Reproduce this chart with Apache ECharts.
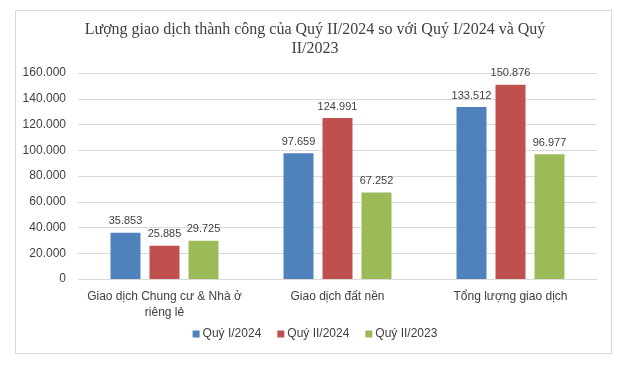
<!DOCTYPE html>
<html><head><meta charset="utf-8">
<script src="https://cdn.jsdelivr.net/npm/echarts@6/dist/echarts.min.js"></script>
<style>html,body{margin:0;padding:0;background:#fff}#c{width:630px;height:368px}
#frame{position:absolute;left:15px;top:10px;width:597px;height:344px;border:1px solid #d9d9d9;box-sizing:border-box;pointer-events:none}</style>
</head><body><div id="c"></div><div id="frame"></div>
<script>
const titleText = 'Lượng giao dịch thành công của Quý II/2024 so với Quý I/2024 và Quý\nII/2023';
const categories = ['Giao dịch Chung cư & Nhà ở\nriêng lẻ', 'Giao dịch đất nền', 'Tổng lượng giao dịch'];
const seriesNames = ['Quý I/2024', 'Quý II/2024', 'Quý II/2023'];
const q1_2024 = [35853, 97659, 133512];
const q2_2024 = [25885, 124991, 150876];
const q2_2023 = [29725, 67252, 96977];
const colors = ['#4F81BD', '#C0504D', '#9BBB59'];

const fmt = v => {
  const s = Math.round(v).toString();
  return s.replace(/\B(?=(\d{3})+(?!\d))/g, '.');
};
const data = [q1_2024, q2_2024, q2_2023];
const chart = echarts.init(document.getElementById('c'), null, {renderer: 'canvas'});
chart.setOption({
  animation: false,
  backgroundColor: '#fff',
  title: {
    text: titleText, left: 'center', top: 15,
    textStyle: {fontFamily: 'Liberation Serif', fontWeight: 'normal', fontSize: 16, color: '#404040', lineHeight: 19}
  },
  legend: {
    bottom: 23, left: 'center', itemWidth: 7, itemHeight: 7, itemGap: 16, icon: 'rect',
    textStyle: {fontFamily: 'Liberation Sans', fontSize: 12, color: '#404040', padding: [0,0,0,-2]}
  },
  grid: {left: 78, right: 33, top: 73, bottom: 89, containLabel: false},
  xAxis: {
    type: 'category', data: categories,
    axisLine: {lineStyle: {color: '#d9d9d9'}},
    axisTick: {show: false},
    axisLabel: {fontFamily: 'Liberation Sans', fontSize: 12, color: '#404040', margin: 10, lineHeight: 16, interval: 0}
  },
  yAxis: {
    type: 'value', min: 0, max: 160000, interval: 20000,
    axisLine: {show: false}, axisTick: {show: false},
    splitLine: {lineStyle: {color: '#d9d9d9'}},
    axisLabel: {fontFamily: 'Liberation Sans', fontSize: 12, color: '#404040', margin: 12, formatter: fmt}
  },
  series: seriesNames.map((n, i) => ({
    name: n, type: 'bar', data: data[i], barWidth: 30, barGap: '30%',
    itemStyle: {color: colors[i]},
    label: {show: true, position: 'top', distance: 6, formatter: p => fmt(p.value),
      fontFamily: 'Liberation Sans', fontSize: 11, color: '#404040'}
  }))
});
</script></body></html>
